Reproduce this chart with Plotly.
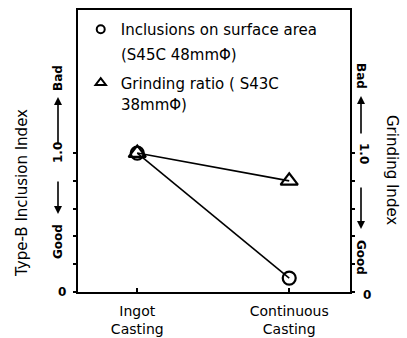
import plotly.graph_objects as go

categories = ["Ingot<br>Casting", "Continuous<br>Casting"]
cat_pos = [0, 1]
inclusions = [1.0, 0.1]
grinding = [1.0, 0.8]
ytick_vals = [0, 0.2, 0.4, 0.6, 0.8, 1.0]
legend_line1 = ["Inclusions on surface area", "Grinding ratio ( S43C"]
legend_line2 = ["(S45C 48mmΦ)", "38mmΦ)"]

W, H = 407, 338
L, R, T, B = 78, 57, 10, 46
PW, PH = W - L - R, H - T - B

def px(x):
    return (x - L) / PW

def py(y):
    return (H - B - y) / PH

FONT = "DejaVu Sans"

fig = go.Figure()
fig.add_trace(go.Scatter(
    x=cat_pos, y=inclusions, mode="lines+markers", showlegend=False,
    line=dict(color="black", width=1.6),
    marker=dict(symbol="circle-open", size=13, color="black", line=dict(width=2.2)),
))
fig.add_trace(go.Scatter(
    x=cat_pos, y=grinding, mode="lines+markers", showlegend=False,
    line=dict(color="black", width=1.6),
    marker=dict(symbol="triangle-up-open", size=15, color="black", line=dict(width=2.2)),
    yaxis="y2",
))
# legend entries (marker only)
fig.add_trace(go.Scatter(
    x=[None], y=[None], mode="markers", name=legend_line1[0], legendgroup="a",
    marker=dict(symbol="circle-open", size=8, color="black", line=dict(width=2)),
))
fig.add_trace(go.Scatter(
    x=[None], y=[None], mode="markers", name=legend_line1[1], legendgroup="b",
    marker=dict(symbol="triangle-up-open", size=9, color="black", line=dict(width=2)),
))

fig.update_layout(
    width=W, height=H,
    margin=dict(l=L, r=R, t=T, b=B, pad=0, autoexpand=False),
    paper_bgcolor="white", plot_bgcolor="white",
    font=dict(family=FONT, color="black", size=14),
    showlegend=True,
    legend=dict(x=0.01, y=py(13), xanchor="left", yanchor="top", bgcolor="rgba(0,0,0,0)",
                font=dict(size=15, family=FONT), tracegroupgap=31,
                itemsizing="trace"),
    xaxis=dict(range=[-0.39, 1.40], tickvals=cat_pos, ticktext=categories,
               ticks="inside", ticklen=4, tickwidth=2, tickcolor="black",
               showline=True, linewidth=2, linecolor="black", mirror=True,
               showgrid=False, zeroline=False, tickfont=dict(size=14),
               ticklabelstandoff=5, automargin=False),
    yaxis=dict(range=[0, 2.03], tickvals=ytick_vals, ticktext=[""] * 6,
               ticks="outside", ticklen=3, tickwidth=2, tickcolor="black",
               showline=True, linewidth=2, linecolor="black",
               showgrid=False, zeroline=False, automargin=False),
    yaxis2=dict(range=[0, 2.03], tickvals=ytick_vals, ticktext=[""] * 6,
                overlaying="y", side="right",
                ticks="outside", ticklen=3, tickwidth=2, tickcolor="black",
                showline=True, linewidth=2, linecolor="black",
                showgrid=False, zeroline=False, automargin=False),
)

def txt(x, y, s, angle=0, size=14, anchor="center"):
    fig.add_annotation(x=px(x), y=py(y), xref="paper", yref="paper", text=s,
                       showarrow=False, textangle=angle, font=dict(size=size, family=FONT),
                       xanchor=anchor, yanchor="middle")

def arrow(x, y_tail, y_head):
    fig.add_annotation(x=px(x), y=py(y_head), xref="paper", yref="paper", text="",
                       showarrow=True, axref="pixel", ayref="pixel", ax=0, ay=y_tail - y_head,
                       arrowhead=2, arrowsize=1, arrowwidth=1.6, arrowcolor="black",
                       standoff=0, startstandoff=0)

# legend second lines
txt(119, 55, legend_line2[0], 0, 15, "left")
txt(119, 105, legend_line2[1], 0, 15, "left")

# Left axis annotations
txt(22, 193, "Type-B Inclusion Index", -90, 15)
txt(58, 78, "<b>Bad</b>", -90, 12)
arrow(58, 145, 97)
txt(58, 153, "<b>1.0</b>", -90, 12)
arrow(58, 180, 214)
txt(58, 242, "<b>Good</b>", -90, 12)
txt(62, 292, "<b>0</b>", 0, 12)

# Right axis annotations
txt(361, 76, "<b>Bad</b>", 90, 12)
arrow(361, 135, 96)
txt(364, 153, "<b>1.0</b>", 90, 12)
arrow(361, 186, 229)
txt(361, 257, "<b>Good</b>", 90, 12)
txt(367, 295, "<b>0</b>", 0, 12)
txt(392, 170, "Grinding Index", 90, 15)

fig.write_html("out.html")
